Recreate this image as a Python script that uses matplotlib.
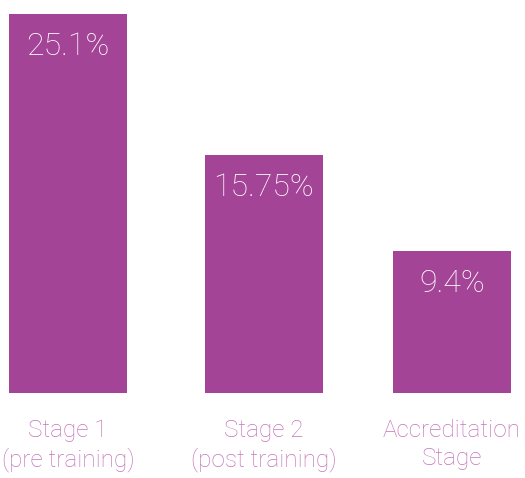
import matplotlib.pyplot as plt

categories = ["Stage 1\n(pre training)", "Stage 2\n(post training)", "Accreditation\nStage"]
values = [25.1, 15.75, 9.4]
value_labels = ["25.1%", "15.75%", "9.4%"]

bar_color = "#A34497"
label_color = "#C475BA"

W, H = 525, 478
fig = plt.figure(figsize=(W / 100, H / 100), dpi=100)
fig.patch.set_facecolor("white")

# axes spans bar area: bottom of bars at y=393px, tallest top at y=14px
ax = fig.add_axes([0, (H - 393) / H, 1, (393 - 14) / H])
x = [0, 1.02, 2]  # slight uneven spacing as in the reference
ax.bar(x, values, width=118 / 192, color=bar_color, zorder=2)
ax.set_xlim(-68 / 192, (W - 68) / 192)
ax.set_ylim(0, max(values))
ax.axis("off")

font = "Roboto"
for xi, v, lab in zip(x, values, value_labels):
    ax.annotate(lab, (xi, v), xytext=(0, -13), textcoords="offset points",
                ha="center", va="top", color="white", fontsize=23,
                family=font, fontweight="light")

for xi, cat in zip(x, categories):
    ax.annotate(cat, (xi, 0), xytext=(0, -19), textcoords="offset points",
                ha="center", va="top", color=label_color, fontsize=17.5,
                family=font, fontweight="light", linespacing=1.28,
                annotation_clip=False)

fig.savefig("out.png", dpi=100, facecolor="white")
